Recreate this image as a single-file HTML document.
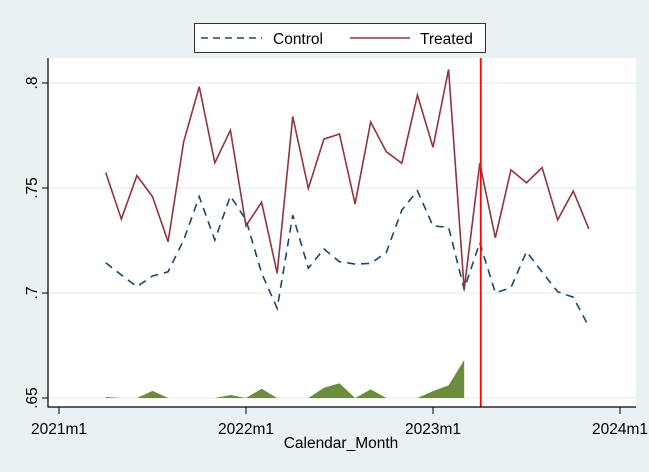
<!DOCTYPE html>
<html><head><meta charset="utf-8"><style>
body{margin:0;background:#eaf1f3;}
svg{display:block;font-family:"Liberation Sans",Arial,sans-serif;}
</style></head><body>
<svg id="chart" width="649" height="472" xmlns="http://www.w3.org/2000/svg">
<rect x="0" y="0" width="649" height="472" fill="#eaf1f3"/>
<rect x="48" y="58" width="588" height="349" fill="#ffffff"/>
<g id="grid"></g>
<g id="area"></g>
<g id="lines"></g>
<g id="axes"></g>
<g>
<rect x="194.5" y="23.5" width="291" height="29" fill="#fff" stroke="#333" stroke-width="1"/>
<line x1="201" y1="38" x2="262" y2="38" stroke="#1a476f" stroke-width="1.6" stroke-dasharray="7,5"/>
<text x="273" y="44" font-size="15.5">Control</text>
<line x1="350" y1="38" x2="410" y2="38" stroke="#90353b" stroke-width="1.6"/>
<text x="420" y="44" font-size="15.5">Treated</text>
</g>
<text x="341" y="448" font-size="15.5" text-anchor="middle">Calendar_Month</text>
</svg>
<script>
const monthIdx=[3,4,5,6,7,8,9,10,11,12,13,14,15,16,17,18,19,20,21,22,23,24,25,26,27,28,29,30,31,32,33,34];
const treated=[.7573,.7352,.7559,.7459,.7244,.772,.7982,.762,.7775,.732,.7432,.7094,.784,.7498,.7733,.7757,.7424,.7814,.7673,.7618,.7943,.7694,.8065,.7018,.7618,.7263,.7586,.7525,.7597,.7348,.7486,.7305];
const control=[.7144,.7086,.703,.7081,.7101,.7252,.7459,.7252,.7462,.7348,.7095,.6927,.7371,.7118,.721,.7149,.7138,.7141,.7192,.7395,.7487,.7319,.7313,.7018,.724,.7001,.7025,.7197,.71,.7006,.698,.684];
const diffArea=[.6505,.65,.65,.6534,.65,.65,.65,.65,.6514,.65,.6544,.65,.65,.65,.6549,.657,.65,.6541,.65,.65,.65,.6533,.656,.6681];
const yTicks=[.65,.7,.75,.8];
const yTickLabels=[".65",".7",".75",".8"];
const xTicks=[0,12,24,36];
const xTickLabels=["2021m1","2022m1","2023m1","2024m1"];
const treatMonth=27;
const X=m=>59+m*187/12;
const Y=v=>398-(v-.65)*2100;
const NS="http://www.w3.org/2000/svg";
function mk(tag,attrs,parent){const e=document.createElementNS(NS,tag);for(const k in attrs)e.setAttribute(k,attrs[k]);document.getElementById(parent).appendChild(e);return e;}
yTicks.forEach((v,i)=>{
 const g=mk('line',{x1:48,x2:636,y1:Y(v),y2:Y(v),stroke:'#eaf1f3','stroke-width':1.5},'grid');
 
 
 const t=mk('line',{x1:42,x2:48,y1:Y(v),y2:Y(v),stroke:'#000'},'axes');
 
 
 const l=mk('text',{x:0,y:0,'font-size':15.5,'text-anchor':'middle',transform:`translate(37,${Y(v)}) rotate(-90)`},'axes');
 l.textContent=yTickLabels[i];
 
 
});
xTicks.forEach((m,i)=>{
 const t=mk('line',{x1:X(m),x2:X(m),y1:407,y2:414,stroke:'#000'},'axes');
 
 
 const l=mk('text',{x:X(m),y:434,'font-size':15.5,'text-anchor':'middle'},'axes');
 l.textContent=xTickLabels[i];
 
 
});
const ax=mk('path',{d:'M48,58 V407 H636',fill:'none',stroke:'#000','stroke-width':1.2},'axes');


let ad=`M${X(monthIdx[0])},${Y(.65)}`;
diffArea.forEach((v,i)=>{ad+=` L${X(monthIdx[i])},${Y(v)}`;});
ad+=` L${X(monthIdx[diffArea.length-1])},${Y(.65)} Z`;
const ar=mk('path',{d:ad,fill:'#6b8c3e',stroke:'none'},'area');


const pts=a=>a.map((v,i)=>`${X(monthIdx[i])},${Y(v)}`).join(' ');
const c=mk('polyline',{points:pts(control),fill:'none',stroke:'#1a476f','stroke-width':1.6,'stroke-dasharray':'8,6'},'lines');


const t=mk('polyline',{points:pts(treated),fill:'none',stroke:'#90353b','stroke-width':1.6},'lines');


const vl=mk('line',{x1:X(treatMonth)+1,x2:X(treatMonth)+1,y1:58,y2:407,stroke:'#ff0000','stroke-width':1.8},'lines');


</script>
</body></html>
